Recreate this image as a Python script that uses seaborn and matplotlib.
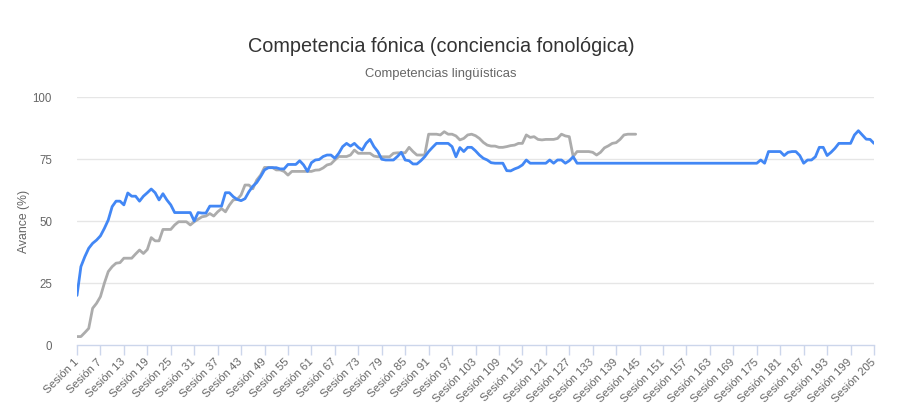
import matplotlib
matplotlib.use("Agg")
import matplotlib.pyplot as plt
import seaborn as sns
import pandas as pd

# ---------------- data ----------------
sessions = [f"Sesión {i}" for i in range(1, 206)]
tick_every = 6

series_names = ["Serie A", "Serie B"]

blue_values = [
    20, 31.6, 35.6, 39, 41, 42.3, 44, 47, 50.4, 55.8,
    58, 58, 56.5, 61.3, 60, 60, 58, 60, 61.4, 62.9,
    61.4, 58.5, 61, 58.5, 56.5, 53.4, 53.4, 53.4, 53.4, 53.4,
    50, 53.4, 53.2, 53.2, 56, 56, 56, 56, 61.4, 61.4,
    59.8, 58.7, 58.2, 59, 61.8, 64, 65.5, 67.9, 70.6, 71.5,
    71.5, 71.5, 71, 71, 72.8, 72.8, 72.8, 74.3, 72.6, 70,
    73.5, 74.6, 74.8, 76, 76.6, 76.6, 75.3, 77.3, 80, 81.3,
    80.2, 81.3, 79.7, 78.6, 81.3, 82.9, 80, 78, 74.9, 74.6,
    74.6, 74.6, 76, 77.7, 74.6, 74.3, 73, 73, 74.3, 75.9,
    78, 79.7, 81.3, 81.3, 81.3, 81.3, 80, 75.9, 79.6, 78,
    79.7, 79.7, 78.3, 76.6, 75.3, 74.6, 73.5, 73.3, 73.3, 73.3,
    70.3, 70.2, 71, 71.6, 72.6, 74.6, 73.3, 73.3, 73.3, 73.3,
    73.3, 74.6, 73.3, 74.6, 74.6, 73.3, 74.3, 75.9, 73.3, 73.3,
    73.3, 73.3, 73.3, 73.3, 73.3, 73.3, 73.3, 73.3, 73.3, 73.3,
    73.3, 73.3, 73.3, 73.3, 73.3, 73.3, 73.3, 73.3, 73.3, 73.3,
    73.3, 73.3, 73.3, 73.3, 73.3, 73.3, 73.3, 73.3, 73.3, 73.3,
    73.3, 73.3, 73.3, 73.3, 73.3, 73.3, 73.3, 73.3, 73.3, 73.3,
    73.3, 73.3, 73.3, 73.3, 73.3,
    74.6, 73.3, 78, 78, 78,
    78, 76.4, 77.7, 78, 78, 76.4, 73.3, 74.6, 74.6, 75.9,
    79.7, 79.7, 76.4, 77.7, 79.3, 81.3, 81.3, 81.3, 81.3, 84.7,
    86.4, 84.7, 83, 82.9, 81.3,
]

gray_values = [
    3.4, 3.4, 5, 6.7, 14.8, 16.8, 19.5, 24.9, 29.6, 31.6,
    33, 33.2, 35, 35, 35, 36.7, 38.3, 36.9, 38.5, 43.3,
    42, 42, 46.6, 46.6, 46.6, 48.4, 49.7, 49.7, 49.7, 48.4,
    49.7, 50.7, 51.7, 52, 53, 52, 53.7, 55, 53.7, 56.4,
    58.5, 58.7, 60.5, 64.5, 64.5, 63, 66.5, 68.5, 71.6, 71.6,
    71.6, 70.6, 70.6, 70, 68.5, 70, 70, 70, 70, 70,
    70, 70.5, 70.6, 71.4, 72.6, 73, 74.6, 76, 76, 76,
    76.6, 78.6, 77.3, 77.3, 77.3, 77.3, 76.2, 75.9, 75.9, 75.9,
    75.9, 77.3, 77.5, 77.5, 77.5, 79.7, 78, 76.6, 76.6, 76.6,
    85, 85, 85, 84.7, 86, 85, 85, 84.3, 82.7, 83.3,
    84.7, 85, 84.4, 83.3, 81.7, 80.6, 80.2, 80.2, 79.7, 79.7,
    80, 80.4, 80.6, 81.3, 81.3, 84.7, 83.7, 84, 82.9, 82.7,
    82.9, 82.9, 82.9, 83.3, 85, 84.3, 84, 76, 78, 78,
    78, 78, 77.7, 76.6, 77.7, 79.5, 80.3, 81.3, 81.6, 82.9,
    84.7, 85, 85, 85,
]

y_ticks = [0, 25, 50, 75, 100]

# ---------------- build long table ----------------
rows = []
for i, v in enumerate(blue_values):
    rows.append({"idx": i, "Avance": v, "serie": series_names[0]})
for i, v in enumerate(gray_values):
    rows.append({"idx": i, "Avance": v, "serie": series_names[1]})
df = pd.DataFrame(rows)

sns.set_theme(style="white")
plt.rcParams["font.family"] = ["Liberation Sans", "DejaVu Sans"]

W, H = 907, 408
fig = plt.figure(figsize=(W / 100, H / 100), dpi=100)
left, right, top, bottom = 77, 874, 97, 345
ax = fig.add_axes([left / W, 1 - bottom / H, (right - left) / W, (bottom - top) / H])

palette = {series_names[0]: "#4287f5", series_names[1]: "#acacac"}
sns.lineplot(data=df, x="idx", y="Avance", hue="serie", palette=palette,
             hue_order=[series_names[1], series_names[0]],
             linewidth=2.0, legend=False, ax=ax, zorder=3)

ax.set_xlim(0, len(sessions) - 1)
ax.set_ylim(0, 100)

# grid
ax.set_yticks(y_ticks)
ax.set_yticklabels([str(t) for t in y_ticks])
for t in y_ticks[1:]:
    ax.axhline(t, color="#e6e6e6", linewidth=1.0, zorder=0)

for s in ["top", "right", "left"]:
    ax.spines[s].set_visible(False)
ax.spines["bottom"].set_color("#ccd6eb")
ax.spines["bottom"].set_linewidth(1.0)

tick_pos = list(range(0, len(sessions), tick_every))
ax.set_xticks(tick_pos)
ax.set_xticklabels([sessions[i] for i in tick_pos], rotation=45, ha="right",
                   va="center", rotation_mode="anchor")
ax.tick_params(axis="x", bottom=True, labelbottom=True, labelcolor="#666666",
               color="#ccd6eb", labelsize=8.2, length=7, width=1,
               direction="out", pad=4)
ax.tick_params(axis="y", left=False, labelcolor="#666666", labelsize=8.3, pad=12)

ax.set_xlabel("")
ax.set_ylabel("Avance (%)", color="#666666", fontsize=8.8)
ax.yaxis.set_label_coords((30 - left) / (right - left), 0.5)

fig.text(441 / W, 1 - 47 / H, "Competencia fónica (conciencia fonológica)",
         ha="center", va="center", fontsize=14.3, color="#333333")
fig.text(441 / W, 1 - 74 / H, "Competencias lingüísticas",
         ha="center", va="center", fontsize=9.4, color="#666666")

fig.savefig("out.png", dpi=100, facecolor="white")
